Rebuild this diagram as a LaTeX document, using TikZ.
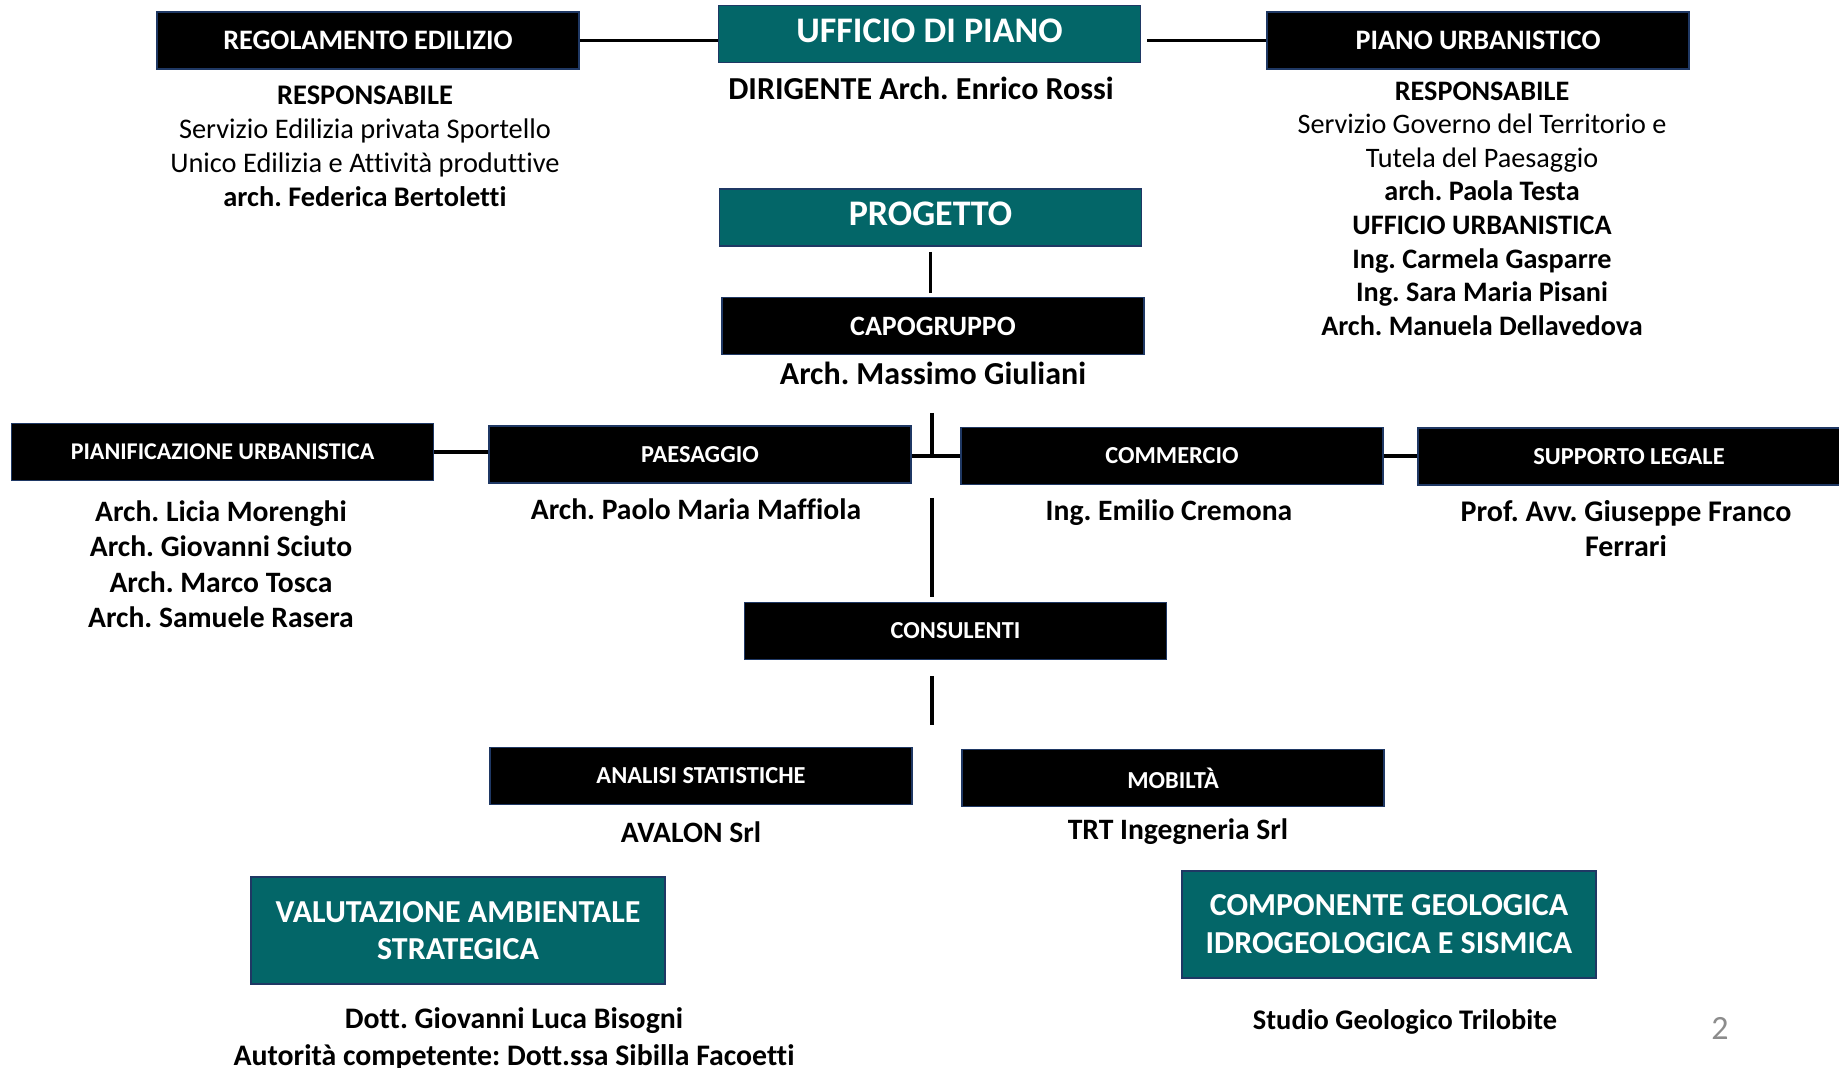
\documentclass[tikz,border=0pt]{standalone}
\usepackage{fontspec}
\setmainfont{Carlito}[Ligatures = NoCommon]
\frenchspacing

\definecolor{tealbg}{RGB}{3,102,104}
\definecolor{navyline}{RGB}{31,56,100}
\definecolor{pagegray}{RGB}{140,140,140}

\begin{document}
\begin{tikzpicture}[x = 0.5pt, y = -0.5pt,
	box/.style = {draw = navyline, line width = 0.9pt, text = white, inner sep = 0pt, align = center, minimum width = 211pt, minimum height = 28.5pt},
	blackbox/.style = {box, fill = black, font = \bfseries\fontsize{12.2}{14}\selectfont},
	tealbox/.style = {box, fill = tealbg, text height = 12pt, text depth = 3.5pt, font = \bfseries\fontsize{18}{21}\selectfont},
	bigbox/.style = {box, fill = tealbg, minimum width = 207pt, minimum height = 53.5pt, font = \bfseries\fontsize{16}{18.3}\selectfont},
	people/.style = {align = center, inner sep = 0pt, execute at begin node = \strut, execute at end node = \strut, font = \bfseries\fontsize{14.8}{17.8}\selectfont},
	link/.style = {line width = 1.6pt}]

	% Page frame
	
	\useasboundingbox (0, 0) rectangle (1839, 1068);

	% First row
	
	\node [tealbox] (uff) at (929.5, 34) {UFFICIO DI PIANO};
	\node [blackbox, font = \bfseries\fontsize{14.1}{16}\selectfont] (reg) at (368, 40.5) {REGOLAMENTO EDILIZIO};
	\node [blackbox, font = \bfseries\fontsize{14.1}{16}\selectfont] (pianourb) at (1478, 40.5) {PIANO URBANISTICO};
	
	\node [people, font = \bfseries\fontsize{16}{19}\selectfont] (dirig) at (921, 91.5) {DIRIGENTE Arch. Enrico Rossi};
	\node [people, font = \bfseries\fontsize{14.2}{17}\selectfont] (respreg) at (365, 151) {RESPONSABILE\\ {\mdseries Servizio Edilizia privata Sportello}\\ {\mdseries Unico Edilizia e Attività produttive}\\ arch. Federica Bertoletti};
	\node [people, font = \bfseries\fontsize{14.1}{16.8}\selectfont] (respurb) at (1482, 213.5) {RESPONSABILE\\ {\mdseries Servizio Governo del Territorio e}\\ {\mdseries Tutela del Paesaggio}\\ arch. Paola Testa\\ UFFICIO URBANISTICA\\ Ing. Carmela Gasparre\\ Ing. Sara Maria Pisani\\ Arch. Manuela Dellavedova};
	
	\draw [link] (reg.east) -- (reg.east -| uff.west);
	\draw [link, shorten <= 3pt] (pianourb.west -| uff.east) -- (pianourb.west);

	% Progetto and capogruppo
	
	\node [tealbox] (prog) at (930.5, 217.5) {PROGETTO};
	\node [blackbox, font = \bfseries\fontsize{14}{16}\selectfont] (capo) at (933, 326) {CAPOGRUPPO};
	\node [people, font = \bfseries\fontsize{16}{19}\selectfont] (caponame) at (933, 376.5) {Arch. Massimo Giuliani};
	
	\draw [link, shorten <= 2.5pt, shorten >= 2pt] (prog.south) -- (prog.south |- capo.north);

	% Working groups
	
	\node [blackbox, font = \bfseries\fontsize{12}{14}\selectfont] (pian) at (222.5, 452) {PIANIFICAZIONE URBANISTICA};
	\node [blackbox] (paes) at (700, 454.5) {PAESAGGIO};
	\node [blackbox] (comm) at (1172, 456) {COMMERCIO};
	\node [blackbox] (supp) at (1629, 456.5) {SUPPORTO LEGALE};
	
	\node [people] (pianname) at (221, 569.5) {Arch. Licia Morenghi\\ Arch. Giovanni Sciuto\\ Arch. Marco Tosca\\ Arch. Samuele Rasera};
	\node [people] (paesname) at (696, 512.5) {Arch. Paolo Maria Maffiola};
	\node [people] (commname) at (1169, 513.5) {Ing. Emilio Cremona};
	\node [people, font = \bfseries\fontsize{15}{17.5}\selectfont] (suppname) at (1626, 533.5) {Prof. Avv. Giuseppe Franco\\ Ferrari};
	
	\coordinate (hubtop) at (932, 413);
	\coordinate (hub) at (932, 456);
	\draw [link] (hubtop) -- (hub);
	\draw [link] (paes.east |- hub) -- (comm.west |- hub);
	\draw [link] (pian.east) -- (pian.east -| paes.west);
	\draw [link] (comm.east) -- (comm.east -| supp.west);

	% Consultants
	
	\node [blackbox] (cons) at (955.5, 631) {CONSULENTI};
	\node [blackbox] (anal) at (701, 776) {ANALISI STATISTICHE};
	\node [blackbox] (mob) at (1173, 778) {MOBILTÀ};
	
	\node [people] (analname) at (691, 835.5) {AVALON Srl};
	\node [people] (mobname) at (1178, 832.5) {TRT Ingegneria Srl};
	
	\coordinate (constop) at (932, 498);
	\draw [link, shorten >= 2.5pt] (constop) -- (constop |- cons.north);
	\coordinate (consbot) at (932, 676);
	\coordinate (consend) at (932, 725);
	\draw [link] (consbot) -- (consend);

	% Bottom boxes
	
	\node [bigbox] (vas) at (458, 930.5) {VALUTAZIONE AMBIENTALE\\ STRATEGICA};
	\node [bigbox, font = \bfseries\fontsize{16}{19}\selectfont] (geo) at (1389, 924.5) {COMPONENTE GEOLOGICA\\ IDROGEOLOGICA E SISMICA};
	
	\node [people, font = \bfseries\fontsize{14.9}{18.5}\selectfont] (vasname) at (514, 1042) {Dott. Giovanni Luca Bisogni\\ Autorità competente: Dott.ssa Sibilla Facoetti};
	\node [people, font = \bfseries\fontsize{14.2}{17}\selectfont] (geoname) at (1405, 1022.5) {Studio Geologico Trilobite};
	
	\node [text = pagegray, inner sep = 0pt, font = \fontsize{17}{20}\selectfont] (pagenum) at (1720, 1028) {2};

\end{tikzpicture}
\end{document}
